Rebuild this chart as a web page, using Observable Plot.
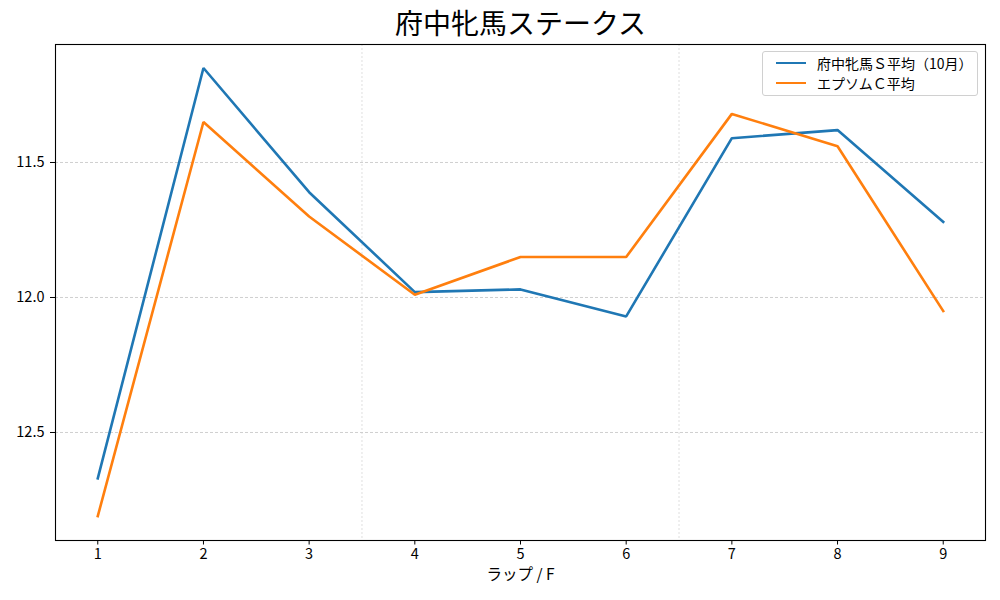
<!DOCTYPE html>
<html>
<head>
<meta charset="utf-8">
<script src="https://cdn.jsdelivr.net/npm/d3@7"></script>
<script src="https://cdn.jsdelivr.net/npm/@observablehq/plot@0.6"></script>
<style>
  html, body { margin: 0; padding: 0; background: #fff; }
  body { font-family: "Noto Sans CJK JP", "Noto Sans", sans-serif; }
  #wrap { position: relative; width: 1000px; height: 600px; }
  #legend { position: absolute; left: 762px; top: 51px; width: 216px; height: 45px;
            border: 1px solid #d0d0d0; border-radius: 3px; background: rgba(255,255,255,0.85);
            font-size: 14px; color: #000; box-sizing: border-box; }
  .item { position: absolute; left: 0; height: 19px; }
  .swatch { position: absolute; left: 13px; width: 30px; height: 0; border-top: 2.6px solid; }
  .lab { position: absolute; left: 54px; white-space: nowrap; line-height: 19px; }
</style>
</head>
<body>
<div id="wrap">
  <div id="chart"></div>
  <div id="legend"></div>
</div>
<script>
// Data
const laps = [1, 2, 3, 4, 5, 6, 7, 8, 9];
const seriesNames = ["府中牝馬Ｓ平均（10月）", "エプソムＣ平均"];
const seriesColors = ["#1f77b4", "#ff7f0e"];
const fuchuValues = [12.67, 11.15, 11.61, 11.98, 11.97, 12.07, 11.41, 11.38, 11.72];
const epsomValues = [12.81, 11.35, 11.70, 11.99, 11.85, 11.85, 11.32, 11.44, 12.05];
const yTicks = [11.5, 12.0, 12.5];
const xGridLines = [3.5, 6.5];
const titleText = "府中牝馬ステークス";
const xLabelText = "ラップ / F";

const rows = [];
laps.forEach((lap, i) => {
  rows.push({lap, value: fuchuValues[i], series: seriesNames[0]});
  rows.push({lap, value: epsomValues[i], series: seriesNames[1]});
});

const fontFamily = '"Noto Sans CJK JP", "Noto Sans", sans-serif';

const chart = Plot.plot({
  width: 1000,
  height: 600,
  marginLeft: 55,
  marginRight: 15,
  marginTop: 44,
  marginBottom: 60,
  style: {fontFamily, fontSize: "14px", color: "#000", background: "#fff"},
  x: {domain: [0.6, 9.4], label: null},
  y: {domain: [11.063, 12.9], reverse: true, label: null},
  color: {domain: seriesNames, range: seriesColors},
  marks: [
    Plot.gridY(yTicks, {stroke: "#b0b0b0", strokeOpacity: 1, strokeWidth: 0.6, strokeDasharray: "3,2"}),
    Plot.ruleX(xGridLines, {stroke: "#c8c8c8", strokeWidth: 0.6, strokeDasharray: "2,2"}),
    Plot.line(rows, {x: "lap", y: "value", z: "series", stroke: "series", strokeWidth: 2.6, strokeLinejoin: "miter", strokeLinecap: "square"}),
    Plot.frame({stroke: "#000", strokeWidth: 1.1}),
    Plot.axisX({ticks: laps, tickFormat: d => String(d), tickSize: 4.5, tickPadding: 4, label: null, fontSize: 14.5}),
    Plot.axisY({ticks: yTicks, tickFormat: d3.format(".1f"), tickSize: 5, tickPadding: 6, label: null, fontSize: 14.5}),
    Plot.text([titleText], {frameAnchor: "top", dy: -19, lineAnchor: "middle", fontSize: 28, text: d => d}),
    Plot.text([xLabelText], {frameAnchor: "bottom", dy: 35, lineAnchor: "middle", fontSize: 15.5, text: d => d})
  ]
});
document.getElementById("chart").appendChild(chart);

// Legend
const legend = document.getElementById("legend");
seriesNames.forEach((name, i) => {
  const item = document.createElement("div");
  item.className = "item";
  item.style.top = (2 + i * 19.5) + "px";
  item.style.width = "100%";
  const sw = document.createElement("div");
  sw.className = "swatch";
  sw.style.borderTopColor = seriesColors[i];
  sw.style.top = "8px";
  const lab = document.createElement("div");
  lab.className = "lab";
  lab.textContent = name;
  item.appendChild(sw);
  item.appendChild(lab);
  legend.appendChild(item);
});
</script>
</body>
</html>
